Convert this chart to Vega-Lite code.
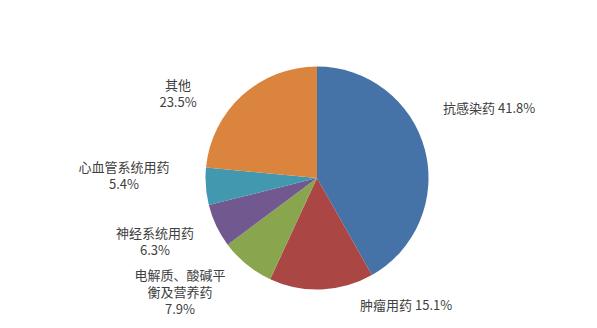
{
  "$schema": "https://vega.github.io/schema/vega-lite/v6.json",
  "width": 554,
  "height": 256,
  "autosize": {"type": "none"},
  "padding": {"left": 40, "top": 50, "right": 3, "bottom": 22},
  "background": "white",
  "config": {"view": {"stroke": null}, "text": {"font": "Noto Sans CJK SC", "fontSize": 13, "color": "#404040", "lineBreak": "\n", "lineHeight": 17, "baseline": "middle", "radius": 150}},
  "data": {"values": [
    {"category": "抗感染药", "value": 41.8, "order": 1, "label": "抗感染药 41.8%"},
    {"category": "肿瘤用药", "value": 15.1, "order": 2, "label": "肿瘤用药 15.1%"},
    {"category": "电解质、酸碱平衡及营养药", "value": 7.9, "order": 3, "label": "电解质、酸碱平\n衡及营养药\n7.9%"},
    {"category": "神经系统用药", "value": 6.3, "order": 4, "label": "神经系统用药\n6.3%"},
    {"category": "心血管系统用药", "value": 5.4, "order": 5, "label": "心血管系统用药\n5.4%"},
    {"category": "其他", "value": 23.5, "order": 6, "label": "其他\n23.5%"}
  ]},
  "encoding": {
    "theta": {"field": "value", "type": "quantitative", "stack": true},
    "order": {"field": "order", "type": "quantitative"}
  },
  "layer": [
    {
      "mark": {"type": "arc", "outerRadius": 111.5},
      "encoding": {
        "color": {
          "field": "category", "type": "nominal", "legend": null,
          "scale": {
            "domain": ["抗感染药", "肿瘤用药", "电解质、酸碱平衡及营养药", "神经系统用药", "心血管系统用药", "其他"],
            "range": ["#4572A7", "#AA4643", "#89A54E", "#71588F", "#4198AF", "#DB843D"]
          }
        }
      }
    },
    {
      "mark": {"type": "text", "align": "left", "dx": -19, "dy": -31},
      "encoding": {"text": {"condition": {"test": "datum.order == 1", "field": "label", "type": "nominal"}, "value": ""}}
    },
    {
      "mark": {"type": "text", "align": "left", "dx": 37, "dy": -22},
      "encoding": {"text": {"condition": {"test": "datum.order == 2", "field": "label", "type": "nominal"}, "value": ""}}
    },
    {
      "mark": {"type": "text", "align": "center", "dx": -42.5, "dy": -18},
      "encoding": {"text": {"condition": {"test": "datum.order == 3", "field": "label", "type": "nominal"}, "value": ""}}
    },
    {
      "mark": {"type": "text", "align": "center", "dx": -26.5, "dy": -8.5},
      "encoding": {"text": {"condition": {"test": "datum.order == 4", "field": "label", "type": "nominal"}, "value": ""}}
    },
    {
      "mark": {"type": "text", "align": "center", "dx": -43.4, "dy": -20.8},
      "encoding": {"text": {"condition": {"test": "datum.order == 5", "field": "label", "type": "nominal"}, "value": ""}}
    },
    {
      "mark": {"type": "text", "align": "center", "dx": -38, "dy": 18.5},
      "encoding": {"text": {"condition": {"test": "datum.order == 6", "field": "label", "type": "nominal"}, "value": ""}}
    }
  ]
}
